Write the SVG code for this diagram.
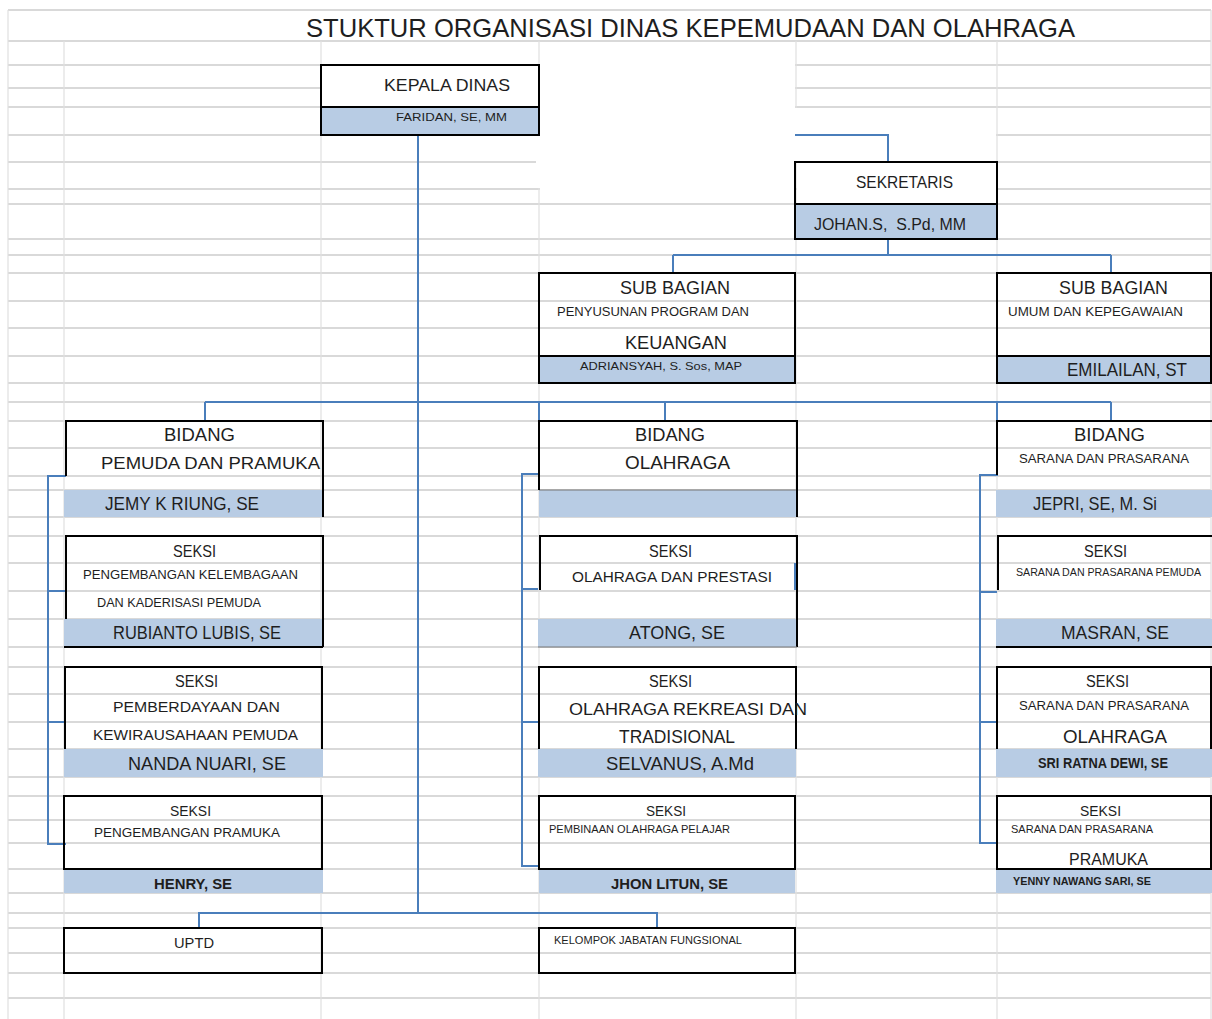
<svg xmlns="http://www.w3.org/2000/svg" width="1212" height="1019" viewBox="0 0 1212 1019">
<defs>
<style>
.gh{stroke:#d9d9d9;stroke-width:2;fill:none}
.gv{stroke:#e0e0e0;stroke-width:1.2;fill:none}
.wh{fill:#ffffff}
.band{fill:#b8cce4}
.bd{stroke:#000;stroke-width:2;fill:none}
.bdg{stroke:#777;stroke-width:1;fill:none}
.cn{stroke:#4a7ebb;stroke-width:2;fill:none}
text{font-family:"Liberation Sans",Arial,sans-serif;fill:#1e1e1e}
.b{font-weight:bold}
</style>
</defs>
<rect width="1212" height="1019" fill="#fff"/>
<g id="grid">
<path class="gh" d="M8 10H1211M8 41H1211M8 65H1211M8 88H1211M8 107H1211M8 135H1211M8 162H1211M8 189H1211M8 204H1211M8 239H1211M8 255H1211M8 273H1211M8 301H1211M8 328H1211M8 356H1211M8 383H1211M8 402H1211M8 421H1211M8 448H1211M8 476H1211M8 490H1211M8 517H1211M8 536H1211M8 563H1211M8 591H1211M8 619H1211M8 647H1211M8 667H1211M8 694H1211M8 722H1211M8 749H1211M8 777H1211M8 796H1211M8 820H1211M8 843H1211M8 869H1211M8 893H1211M8 913H1211M8 928H1211M8 953H1211M8 973H1211M8 998H1211"/>
<path class="gv" d="M8 10V1019M1211 10V1019M64 41V1019M321 41V1019M539 41V1019M796 41V1019M997 41V1019"/>
<rect class="wh" x="540" y="42" width="255" height="161"/>
<rect class="wh" x="540" y="108" width="456" height="53"/>
<rect class="wh" x="797" y="163" width="199" height="40"/>
<rect class="wh" x="322" y="66" width="216" height="40"/>
<rect class="wh" x="536" y="136" width="6" height="52"/>
</g>
<g id="connectors">
<path class="cn" d="M418 135V913"/>
<path class="cn" d="M795 135H888V162"/>
<path class="cn" d="M888 239V255M673 255H1111M673 255V273M1111 255V273"/>
<path class="cn" d="M205 402H1111M205 402V421M665 402V421M1111 402V421M539 402V421M997 402V421"/>
<path class="cn" d="M66 476H48V844H66M48 591H66M48 722H66"/>
<path class="cn" d="M539 474H522V866H539M522 589H538M522 722H539"/>
<path class="cn" d="M998 475H980V843H998M980 592H997M980 722H997"/>
<path class="cn" d="M199 928V913H657V928"/>
<path class="cn" d="M795 563V590"/>
</g>
<text x="306" y="37" font-size="26" textLength="769" lengthAdjust="spacingAndGlyphs">STUKTUR ORGANISASI DINAS KEPEMUDAAN DAN OLAHRAGA</text>
<g id="kepala-dinas">
<rect class="band" x="321" y="107" width="218" height="28"/>
<rect class="bd" x="321" y="65" width="218" height="70"/>
<path class="bd" d="M321 107H539"/>
<text x="384" y="91" font-size="17" textLength="126" lengthAdjust="spacingAndGlyphs">KEPALA DINAS</text>
<text x="396" y="121" font-size="11.5" textLength="111" lengthAdjust="spacingAndGlyphs">FARIDAN, SE, MM</text>
</g>
<g id="sekretaris">
<rect class="band" x="795" y="204" width="202" height="35"/>
<rect class="bd" x="795" y="162" width="202" height="77"/>
<path class="bd" d="M795 204H997"/>
<text x="856" y="188" font-size="17" textLength="97" lengthAdjust="spacingAndGlyphs">SEKRETARIS</text>
<text x="814" y="230" font-size="16" textLength="152" lengthAdjust="spacingAndGlyphs" xml:space="preserve">JOHAN.S,  S.Pd, MM</text>
</g>
<g id="subbag-program">
<rect class="band" x="539" y="356" width="256" height="27"/>
<rect class="bd" x="539" y="273" width="256" height="110"/>
<path class="bd" d="M539 356H795"/>
<text x="620" y="294" font-size="18" textLength="110" lengthAdjust="spacingAndGlyphs">SUB BAGIAN</text>
<text x="557" y="316" font-size="12.5" textLength="192" lengthAdjust="spacingAndGlyphs">PENYUSUNAN PROGRAM DAN</text>
<text x="625" y="349" font-size="18" textLength="102" lengthAdjust="spacingAndGlyphs">KEUANGAN</text>
<text x="580" y="370" font-size="11.5" textLength="162" lengthAdjust="spacingAndGlyphs">ADRIANSYAH, S. Sos, MAP</text>
</g>
<g id="subbag-umum">
<rect class="band" x="997" y="356" width="214" height="27"/>
<rect class="bd" x="997" y="273" width="214" height="110"/>
<path class="bd" d="M997 356H1211"/>
<text x="1059" y="294" font-size="18" textLength="109" lengthAdjust="spacingAndGlyphs">SUB BAGIAN</text>
<text x="1008" y="316" font-size="12.5" textLength="175" lengthAdjust="spacingAndGlyphs">UMUM DAN KEPEGAWAIAN</text>
<text x="1067" y="376" font-size="19" textLength="120" lengthAdjust="spacingAndGlyphs">EMILAILAN, ST</text>
</g>
<g id="bidang-pemuda">
<rect class="band" x="64" y="490" width="259" height="27"/>
<path class="bd" d="M66 476V421H323V517"/>
<text x="164" y="441" font-size="18" textLength="71" lengthAdjust="spacingAndGlyphs">BIDANG</text>
<text x="101" y="469" font-size="17" textLength="219" lengthAdjust="spacingAndGlyphs">PEMUDA DAN PRAMUKA</text>
<text x="105" y="510" font-size="18" textLength="154" lengthAdjust="spacingAndGlyphs">JEMY K RIUNG, SE</text>
</g>
<g id="bidang-olahraga">
<rect class="band" x="539" y="490" width="258" height="27"/>
<path class="bdg" d="M539 490H797"/>
<path class="bd" d="M539 490V421H797V517"/>
<text x="635" y="441" font-size="18" textLength="70" lengthAdjust="spacingAndGlyphs">BIDANG</text>
<text x="625" y="469" font-size="18" textLength="105" lengthAdjust="spacingAndGlyphs">OLAHRAGA</text>
</g>
<g id="bidang-sarana">
<rect class="band" x="996" y="490" width="216" height="27"/>
<path class="bd" d="M997 475V421H1212"/>
<text x="1074" y="441" font-size="18" textLength="71" lengthAdjust="spacingAndGlyphs">BIDANG</text>
<text x="1019" y="463" font-size="13" textLength="170" lengthAdjust="spacingAndGlyphs">SARANA DAN PRASARANA</text>
<text x="1033" y="510" font-size="18" textLength="124" lengthAdjust="spacingAndGlyphs">JEPRI, SE, M. Si</text>
</g>
<g id="seksi-kelembagaan">
<rect class="band" x="64" y="619" width="259" height="28"/>
<path class="bd" d="M66 619V536H323V647M64 647H323"/>
<text x="173" y="557" font-size="16.5" textLength="43" lengthAdjust="spacingAndGlyphs">SEKSI</text>
<text x="83" y="579" font-size="12.5" textLength="215" lengthAdjust="spacingAndGlyphs">PENGEMBANGAN KELEMBAGAAN</text>
<text x="97" y="607" font-size="13" textLength="164" lengthAdjust="spacingAndGlyphs">DAN KADERISASI PEMUDA</text>
<text x="113" y="639" font-size="18" textLength="168" lengthAdjust="spacingAndGlyphs">RUBIANTO LUBIS, SE</text>
</g>
<g id="seksi-pemberdayaan">
<rect class="band" x="64" y="749" width="259" height="28"/>
<path class="bd" d="M65 749V667H322V749"/>
<text x="175" y="687" font-size="16" textLength="43" lengthAdjust="spacingAndGlyphs">SEKSI</text>
<text x="113" y="712" font-size="15" textLength="167" lengthAdjust="spacingAndGlyphs">PEMBERDAYAAN DAN</text>
<text x="93" y="740" font-size="15" textLength="205" lengthAdjust="spacingAndGlyphs">KEWIRAUSAHAAN PEMUDA</text>
<text x="128" y="770" font-size="18" textLength="158" lengthAdjust="spacingAndGlyphs">NANDA NUARI, SE</text>
</g>
<g id="seksi-pramuka">
<rect class="band" x="64" y="869" width="259" height="24"/>
<rect class="bd" x="64" y="796" width="258" height="73"/>
<text x="170" y="816" font-size="15" textLength="41" lengthAdjust="spacingAndGlyphs">SEKSI</text>
<text x="94" y="837" font-size="13" textLength="186" lengthAdjust="spacingAndGlyphs">PENGEMBANGAN PRAMUKA</text>
<text class="b" x="154" y="889" font-size="15" textLength="78" lengthAdjust="spacingAndGlyphs">HENRY, SE</text>
</g>
<g id="seksi-prestasi">
<rect class="band" x="538" y="619" width="259" height="28"/>
<path class="bd" d="M540 590V536H797V647"/>
<path class="bdg" d="M538 647H797"/>
<text x="649" y="557" font-size="16.5" textLength="43" lengthAdjust="spacingAndGlyphs">SEKSI</text>
<text x="572" y="582" font-size="15" textLength="200" lengthAdjust="spacingAndGlyphs">OLAHRAGA DAN PRESTASI</text>
<text x="629" y="639" font-size="17.5" textLength="96" lengthAdjust="spacingAndGlyphs">ATONG, SE</text>
</g>
<g id="seksi-rekreasi">
<rect class="band" x="538" y="749" width="258" height="28"/>
<path class="bd" d="M539 749V667H796V749"/>
<text x="649" y="687" font-size="16" textLength="43" lengthAdjust="spacingAndGlyphs">SEKSI</text>
<text x="569" y="715" font-size="17" textLength="238" lengthAdjust="spacingAndGlyphs">OLAHRAGA REKREASI DAN</text>
<text x="619" y="743" font-size="18" textLength="116" lengthAdjust="spacingAndGlyphs">TRADISIONAL</text>
<text x="606" y="770" font-size="18" textLength="148" lengthAdjust="spacingAndGlyphs">SELVANUS, A.Md</text>
</g>
<g id="seksi-pelajar">
<rect class="band" x="539" y="869" width="256" height="24"/>
<rect class="bd" x="539" y="796" width="256" height="73"/>
<text x="646" y="816" font-size="15" textLength="40" lengthAdjust="spacingAndGlyphs">SEKSI</text>
<text x="549" y="833" font-size="10.5" textLength="181" lengthAdjust="spacingAndGlyphs">PEMBINAAN OLAHRAGA PELAJAR</text>
<text class="b" x="611" y="889" font-size="15" textLength="117" lengthAdjust="spacingAndGlyphs">JHON LITUN, SE</text>
</g>
<g id="seksi-sarana-pemuda">
<rect class="band" x="996" y="619" width="216" height="28"/>
<path class="bd" d="M998 590V536H1212M996 647H1212"/>
<text x="1084" y="557" font-size="16.5" textLength="43" lengthAdjust="spacingAndGlyphs">SEKSI</text>
<text x="1016" y="576" font-size="10" textLength="185" lengthAdjust="spacingAndGlyphs">SARANA DAN PRASARANA PEMUDA</text>
<text x="1061" y="639" font-size="18" textLength="108" lengthAdjust="spacingAndGlyphs">MASRAN, SE</text>
</g>
<g id="seksi-sarana-olahraga">
<rect class="band" x="996" y="749" width="216" height="28"/>
<path class="bd" d="M997 749V667H1211V749"/>
<text x="1086" y="687" font-size="16" textLength="43" lengthAdjust="spacingAndGlyphs">SEKSI</text>
<text x="1019" y="710" font-size="13" textLength="170" lengthAdjust="spacingAndGlyphs">SARANA DAN PRASARANA</text>
<text x="1063" y="743" font-size="18" textLength="104" lengthAdjust="spacingAndGlyphs">OLAHRAGA</text>
<text class="b" x="1038" y="768" font-size="14" textLength="130" lengthAdjust="spacingAndGlyphs">SRI RATNA DEWI, SE</text>
</g>
<g id="seksi-sarana-pramuka">
<rect class="band" x="996" y="869" width="216" height="24"/>
<rect class="bd" x="997" y="796" width="214" height="73"/>
<text x="1080" y="816" font-size="15" textLength="41" lengthAdjust="spacingAndGlyphs">SEKSI</text>
<text x="1011" y="833" font-size="11" textLength="142" lengthAdjust="spacingAndGlyphs">SARANA DAN PRASARANA</text>
<text x="1069" y="865" font-size="16" textLength="79" lengthAdjust="spacingAndGlyphs">PRAMUKA</text>
<text class="b" x="1013" y="885" font-size="11" textLength="138" lengthAdjust="spacingAndGlyphs">YENNY NAWANG SARI, SE</text>
</g>
<g id="uptd">
<rect class="bd" x="64" y="928" width="258" height="45"/>
<text x="174" y="948" font-size="15" textLength="40" lengthAdjust="spacingAndGlyphs">UPTD</text>
</g>
<g id="kelompok-jabatan-fungsional">
<rect class="bd" x="539" y="928" width="256" height="45"/>
<text x="554" y="944" font-size="11" textLength="188" lengthAdjust="spacingAndGlyphs">KELOMPOK JABATAN FUNGSIONAL</text>
</g>
</svg>
